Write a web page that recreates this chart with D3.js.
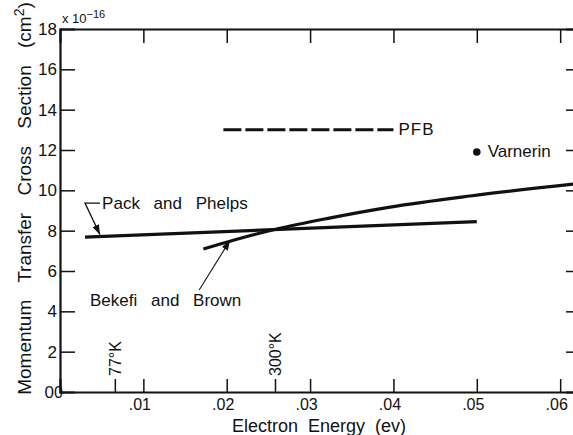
<!DOCTYPE html>
<html>
<head>
<meta charset="utf-8">
<script src="https://cdn.jsdelivr.net/npm/d3@7"></script>
<style>
  html, body { margin: 0; padding: 0; background: #fff; }
  svg { display: block; font-family: "Liberation Sans", Arial, sans-serif; }
  .axis path, .axis line { stroke: #111; }
  .axis text { fill: #111; }
</style>
</head>
<body>
<svg id="chart" width="573" height="435"></svg>
<script>
// Electron energy (eV) and momentum transfer cross section (units of 1e-16 cm^2)
const packPhelpsEnergy = [0.003, 0.050];
const packPhelpsSigma  = [7.68, 8.45];

const bekefiEnergy = [0.0172, 0.0210, 0.0260, 0.0320, 0.0396, 0.0492, 0.0616];
const bekefiSigma  = [7.09, 7.55, 8.08, 8.60, 9.17, 9.72, 10.31];

const pfbEnergy = [0.0196, 0.0400];
const pfbSigma  = [13.0, 13.0];

const varnerinEnergy = [0.050];
const varnerinSigma  = [11.9];

// kT for 77 K and 300 K
const tempMarks = [
  { label: "77°K",  energy: 0.00664 },
  { label: "300°K", energy: 0.02585 }
];

const xTicks = [0, 0.01, 0.02, 0.03, 0.04, 0.05, 0.06];
const xTickLabels = ["0", ".01", ".02", ".03", ".04", ".05", ".06"];
const yTicks = [0, 2, 4, 6, 8, 10, 12, 14, 16, 18];

const svg = d3.select("#chart");
const plotLeft = 60, plotRight = 576, plotTop = 29, plotBottom = 392;

const x = d3.scaleLinear().domain([0, 0.0619]).range([plotLeft, plotRight]);
const y = d3.scaleLinear().domain([0, 18]).range([plotBottom, plotTop]);

const ink = "#111";

// Axes with inward ticks on all four sides
const gx = svg.append("g").attr("class", "axis")
  .attr("transform", `translate(0,${plotBottom})`)
  .call(d3.axisBottom(x).tickValues(xTicks).tickSize(-13).tickPadding(7)
        .tickFormat((d, i) => xTickLabels[i]));
gx.select(".domain").attr("stroke-width", 2.2);
gx.selectAll(".tick line").attr("stroke-width", 1.5);
gx.selectAll(".tick text").attr("font-size", 16).attr("dx", -4);
gx.selectAll(".tick").filter(d => d === 0).select("text").attr("dx", -2).attr("dy", -1);
gx.selectAll(".tick").filter(d => d === 0).select("line").remove();

const gxt = svg.append("g").attr("class", "axis")
  .attr("transform", `translate(0,${plotTop})`)
  .call(d3.axisTop(x).tickValues(xTicks.slice(1)).tickSize(-14).tickFormat(""));
gxt.select(".domain").attr("stroke-width", 2.2);
gxt.selectAll(".tick line").attr("stroke-width", 1.5);

const gy = svg.append("g").attr("class", "axis")
  .attr("transform", `translate(${plotLeft},0)`)
  .call(d3.axisLeft(y).tickValues(yTicks).tickSize(-15).tickPadding(3));
gy.select(".domain").attr("stroke-width", 2.2);
gy.selectAll(".tick line").attr("stroke-width", 1.5);
gy.selectAll(".tick text").attr("font-size", 17);
gy.selectAll(".tick").filter(d => d === 0 || d === 18).select("line").remove();
gy.selectAll(".tick").filter(d => d === 0).select("text").attr("dx", -3);

const gyr = svg.append("g").attr("class", "axis")
  .attr("transform", `translate(${plotRight},0)`)
  .call(d3.axisRight(y).tickValues(yTicks.slice(1, -1)).tickSize(-10).tickFormat(""));
gyr.select(".domain").attr("stroke-width", 2.2);
gyr.selectAll(".tick line").attr("stroke-width", 1.5);

// Scale multiplier above the y axis
const mult = svg.append("text").attr("x", plotLeft + 2).attr("y", plotTop - 6)
  .attr("font-size", 13).attr("fill", ink);
mult.append("tspan").text("x 10");
mult.append("tspan").attr("dy", -5).attr("font-size", 11).text("−16");

// Axis titles
svg.append("text")
  .attr("x", 319).attr("y", 432)
  .attr("text-anchor", "middle").attr("font-size", 18).attr("fill", ink)
  .attr("word-spacing", 5)
  .text("Electron Energy (ev)");

const yt = svg.append("text")
  .attr("transform", `translate(31,${(13 + 384) / 2}) rotate(-90)`)
  .attr("text-anchor", "middle").attr("font-size", 19).attr("fill", ink)
  .attr("word-spacing", 12);
yt.append("tspan").text("Momentum Transfer Cross Section (cm");
yt.append("tspan").attr("dy", -7).attr("font-size", 14).text("2");
yt.append("tspan").attr("dy", 7).text(")");

// Data curves
const straight = d3.line().x(d => x(d[0])).y(d => y(d[1]));
const smooth = d3.line().x(d => x(d[0])).y(d => y(d[1])).curve(d3.curveMonotoneX);

svg.append("path")
  .datum(d3.zip(packPhelpsEnergy, packPhelpsSigma))
  .attr("d", straight).attr("fill", "none").attr("stroke", ink).attr("stroke-width", 3.2);

svg.append("path")
  .datum(d3.zip(bekefiEnergy, bekefiSigma))
  .attr("d", smooth).attr("fill", "none")
  .attr("stroke", ink).attr("stroke-width", 3.2);

svg.append("path")
  .datum(d3.zip(pfbEnergy, pfbSigma))
  .attr("d", straight)
  .attr("fill", "none").attr("stroke", ink).attr("stroke-width", 3)
  .attr("stroke-dasharray", "18,4");

svg.selectAll("circle.varnerin")
  .data(d3.zip(varnerinEnergy, varnerinSigma))
  .join("circle").attr("class", "varnerin")
  .attr("cx", d => x(d[0])).attr("cy", d => y(d[1])).attr("r", 3.8).attr("fill", ink);

// Arrowhead for the leaders
svg.append("defs").append("marker")
  .attr("id", "head").attr("viewBox", "0 0 10 10")
  .attr("refX", 10).attr("refY", 5)
  .attr("markerWidth", 10).attr("markerHeight", 10)
  .attr("markerUnits", "userSpaceOnUse").attr("orient", "auto")
  .append("path").attr("d", "M0,1.5 L10,5 L0,8.5 Z").attr("fill", ink);

// Curve labels
const labelFont = 17;
svg.append("text").attr("x", x(0.00505)).attr("y", y(9.06))
  .attr("font-size", labelFont).attr("fill", ink).attr("word-spacing", 9)
  .text("Pack and Phelps");
svg.append("path")
  .attr("d", `M${x(0.0048)},${y(9.37)} L${x(0.0030)},${y(9.37)} L${x(0.0048)},${y(7.80)}`)
  .attr("fill", "none").attr("stroke", ink).attr("stroke-width", 1.3)
  .attr("marker-end", "url(#head)");

svg.append("text").attr("x", x(0.0036)).attr("y", y(4.26))
  .attr("font-size", labelFont).attr("fill", ink).attr("word-spacing", 9)
  .text("Bekefi and Brown");
svg.append("path")
  .attr("d", `M${x(0.0167)},${y(5.06)} L${x(0.0204)},${y(7.52)}`)
  .attr("fill", "none").attr("stroke", ink).attr("stroke-width", 1.1)
  .attr("marker-end", "url(#head)");

svg.append("text").attr("x", x(0.0406)).attr("y", y(12.74))
  .attr("font-size", labelFont).attr("fill", ink).attr("letter-spacing", 1)
  .text("PFB");
svg.append("text").attr("x", x(0.0513)).attr("y", y(11.66))
  .attr("font-size", labelFont).attr("fill", ink)
  .text("Varnerin");

// Temperature markers on the energy axis
const tm = svg.selectAll("g.temp").data(tempMarks).join("g").attr("class", "temp");
tm.append("line")
  .attr("x1", d => x(d.energy)).attr("x2", d => x(d.energy))
  .attr("y1", plotBottom).attr("y2", plotBottom - 13)
  .attr("stroke", ink).attr("stroke-width", 1.5);
tm.append("text")
  .attr("transform", d => `translate(${x(d.energy) + 6},${plotBottom - 16}) rotate(-90)`)
  .attr("font-size", 16).attr("fill", ink)
  .text(d => d.label);
</script>
</body>
</html>
